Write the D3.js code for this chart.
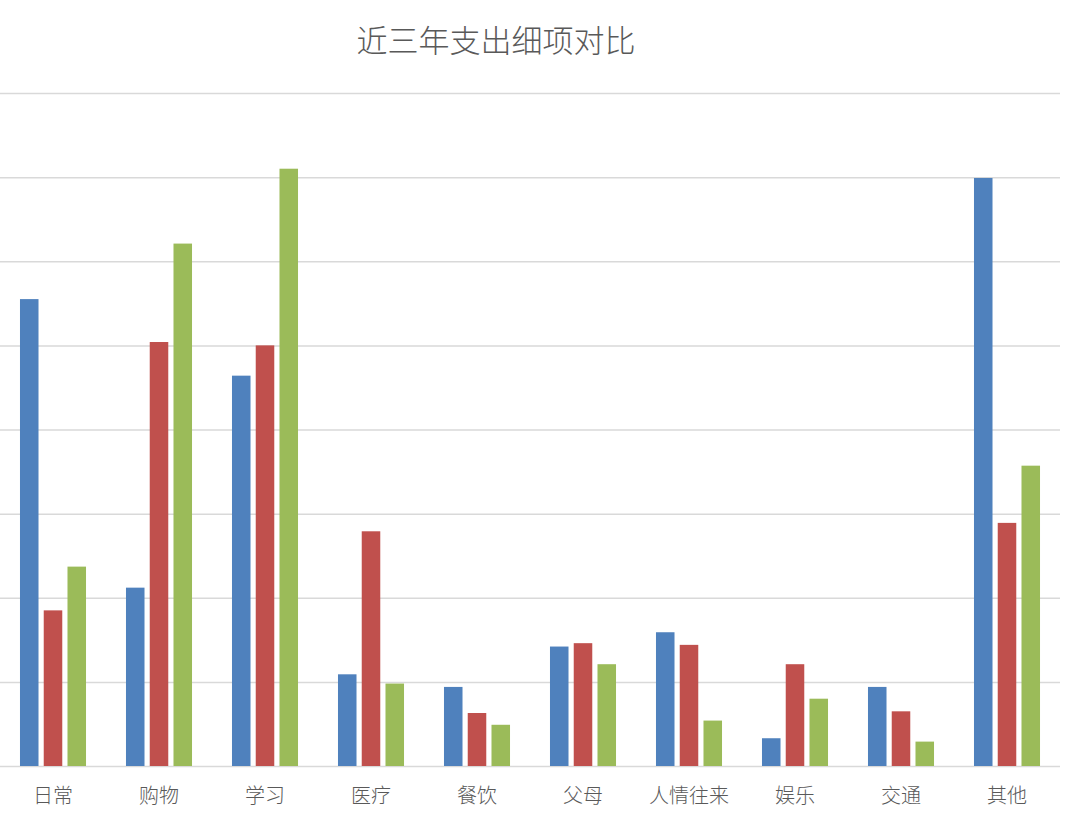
<!DOCTYPE html>
<html>
<head>
<meta charset="utf-8">
<script src="https://cdn.jsdelivr.net/npm/d3@7"></script>
<style>
  html, body { margin: 0; padding: 0; background: #ffffff; }
  svg { display: block; font-family: "Noto Sans CJK SC", "Noto Sans", sans-serif; }
</style>
</head>
<body>
<svg id="chart" width="1080" height="813"></svg>
<script>
const title = "近三年支出细项对比";
const categories = ["日常", "购物", "学习", "医疗", "餐饮", "父母", "人情往来", "娱乐", "交通", "其他"];
const seriesNames = ["第一年", "第二年", "第三年"];
const seriesColors = ["#4F81BD", "#C0504D", "#9BBB59"];
const year1 = [5.55, 2.12, 4.64, 1.09, 0.94, 1.42, 1.59, 0.33, 0.94, 6.99];
const year2 = [1.85, 5.04, 5.00, 2.79, 0.63, 1.46, 1.44, 1.21, 0.65, 2.89];
const year3 = [2.37, 6.21, 7.10, 0.98, 0.49, 1.21, 0.54, 0.80, 0.29, 3.57];
const seriesValues = [year1, year2, year3];
const yTicks = [0, 1, 2, 3, 4, 5, 6, 7, 8];

const svg = d3.select("#chart");
const plot = { left: 0, right: 1060, top: 93, bottom: 766 };

const x = d3.scaleBand().domain(categories)
  .range([plot.left, plot.right]).paddingInner(0.377).paddingOuter(0.1885);
const xs = d3.scaleBand().domain(seriesNames)
  .range([0, x.bandwidth()]).paddingInner(0.22).paddingOuter(0);
const y = d3.scaleLinear().domain([0, 8]).range([plot.bottom, plot.top]);

// gridlines
svg.append("g")
  .attr("transform", `translate(${plot.left},0)`)
  .call(d3.axisLeft(y).tickValues(yTicks).tickSize(-(plot.right - plot.left)).tickFormat(""))
  .call(g => g.select(".domain").remove())
  .call(g => g.selectAll(".tick line").attr("stroke", "#d9d9d9").attr("stroke-width", 1.5));

// bars
const rows = categories.map((c, i) => ({ cat: c, vals: seriesNames.map((s, j) => ({ s, j, v: seriesValues[j][i] })) }));
const groups = svg.append("g").selectAll("g").data(rows).join("g")
  .attr("transform", d => `translate(${x(d.cat)},0)`);
groups.selectAll("rect").data(d => d.vals).join("rect")
  .attr("x", d => xs(d.s))
  .attr("width", xs.bandwidth())
  .attr("y", d => y(d.v))
  .attr("height", d => y(0) - y(d.v))
  .attr("fill", d => seriesColors[d.j]);

// x axis labels
svg.append("g")
  .attr("transform", `translate(0,${plot.bottom})`)
  .call(d3.axisBottom(x).tickSize(0).tickPadding(23))
  .call(g => g.select(".domain").remove())
  .call(g => g.selectAll("text")
    .attr("fill", "#595959")
    .style("font-size", "20px")
    .style("font-weight", "300")
    .style("font-family", "'Noto Sans CJK SC', sans-serif"));

// title
svg.append("text")
  .attr("x", 496).attr("y", 52)
  .attr("text-anchor", "middle")
  .attr("fill", "#595959")
  .style("font-size", "31px")
  .style("font-weight", "300")
  .text(title);
</script>
</body>
</html>
